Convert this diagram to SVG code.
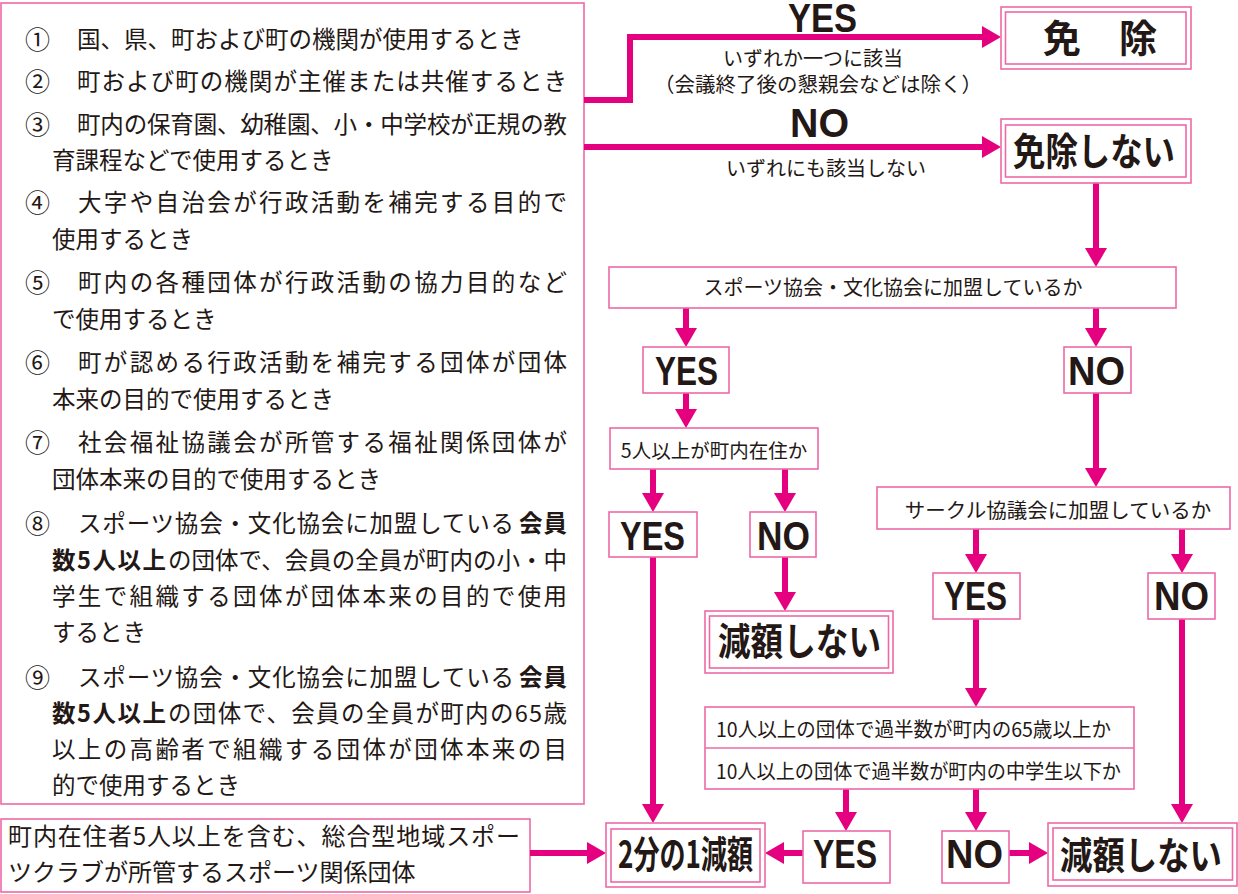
<svg xmlns="http://www.w3.org/2000/svg" width="1238" height="894" viewBox="0 0 1238 894">
<defs>
<marker id="ah" markerUnits="userSpaceOnUse" markerWidth="20" markerHeight="22" viewBox="0 0 20 22" refX="1" refY="11" orient="auto">
<path d="M0,0 L19,11 L0,22 z" fill="#e4007f"/>
</marker>
<style>
.box{fill:#fff;stroke:#ee6aa7;stroke-width:1.6}
.ln{fill:none;stroke:#e4007f;stroke-width:6;marker-end:url(#ah)}
.t{font-family:"Noto Sans CJK JP","Noto Sans",sans-serif;fill:#231815}
.body{font-size:23.5px}
.num{font-size:25px}
.bold{font-weight:700}
.q{font-size:20px}
.big{font-family:"Noto Sans CJK JP",sans-serif;font-weight:700;font-size:38px;fill:#231815}
.yn{font-family:"Liberation Sans","Noto Sans CJK JP",sans-serif;font-weight:700;font-size:41px;fill:#231815}
</style>
</defs>
<rect width="1238" height="894" fill="#fff"/>

<g id="conditions">
<rect class="box" x="1" y="3" width="583" height="801"/>
<g class="t body">
<text class="num" x="25" y="49">①</text><text x="77" y="48">国、県、町および町の機関が使用するとき</text>
<text class="num" x="25" y="91">②</text><text x="77" y="90" textLength="490" lengthAdjust="spacing">町および町の機関が主催または共催するとき</text>
<text class="num" x="25" y="134">③</text><text x="77" y="133" textLength="490" lengthAdjust="spacing">町内の保育園、幼稚園、小・中学校が正規の教</text>
<text x="52" y="169">育課程などで使用するとき</text>
<text class="num" x="25" y="212">④</text><text x="78" y="211" textLength="489" lengthAdjust="spacing">大字や自治会が行政活動を補完する目的で</text>
<text x="52" y="248">使用するとき</text>
<text class="num" x="25" y="292">⑤</text><text x="78" y="291" textLength="489" lengthAdjust="spacing">町内の各種団体が行政活動の協力目的など</text>
<text x="52" y="328">で使用するとき</text>
<text class="num" x="25" y="372">⑥</text><text x="78" y="371" textLength="489" lengthAdjust="spacing">町が認める行政活動を補完する団体が団体</text>
<text x="52" y="408">本来の目的で使用するとき</text>
<text class="num" x="25" y="452">⑦</text><text x="78" y="451" textLength="489" lengthAdjust="spacing">社会福祉協議会が所管する福祉関係団体が</text>
<text x="52" y="488">団体本来の目的で使用するとき</text>
<text class="num" x="25" y="533">⑧</text><text x="78" y="532" textLength="436" lengthAdjust="spacing">スポーツ協会・文化協会に加盟している</text><text class="bold" x="519" y="532" textLength="48" lengthAdjust="spacing">会員</text>
<text class="bold" x="52" y="569" textLength="114" lengthAdjust="spacing">数5人以上</text><text x="168" y="569" textLength="399" lengthAdjust="spacing">の団体で、会員の全員が町内の小・中</text>
<text x="52" y="605" textLength="515" lengthAdjust="spacing">学生で組織する団体が団体本来の目的で使用</text>
<text x="52" y="641">するとき</text>
<text class="num" x="25" y="687">⑨</text><text x="78" y="686" textLength="436" lengthAdjust="spacing">スポーツ協会・文化協会に加盟している</text><text class="bold" x="519" y="686" textLength="48" lengthAdjust="spacing">会員</text>
<text class="bold" x="52" y="722" textLength="114" lengthAdjust="spacing">数5人以上</text><text x="168" y="722" textLength="399" lengthAdjust="spacing">の団体で、会員の全員が町内の65歳</text>
<text x="52" y="758" textLength="515" lengthAdjust="spacing">以上の高齢者で組織する団体が団体本来の目</text>
<text x="52" y="794">的で使用するとき</text>
</g>
</g>

<g id="sportsclub">
<rect class="box" x="1" y="819" width="529" height="73"/>
<text class="t" font-size="24" x="8" y="845" textLength="512" lengthAdjust="spacing">町内在住者5人以上を含む、総合型地域スポー</text>
<text class="t" font-size="24" x="8" y="881">ツクラブが所管するスポーツ関係団体</text>
</g>

<g id="connectors">
<path class="ln" d="M584,100 H630 V37 H983"/>
<path class="ln" d="M584,147 H983"/>
<path class="ln" d="M1096,183 V249"/>
<path class="ln" d="M686,308 V329"/>
<path class="ln" d="M1096,308 V329"/>
<path class="ln" d="M686,393 V410"/>
<path class="ln" d="M1096,393 V469"/>
<path class="ln" d="M653,469 V494"/>
<path class="ln" d="M785,469 V494"/>
<path class="ln" d="M785,557 V593"/>
<path class="ln" d="M653,557 V805"/>
<path class="ln" d="M976,529 V555"/>
<path class="ln" d="M1182,529 V555"/>
<path class="ln" d="M976,619 V689"/>
<path class="ln" d="M1182,619 V805"/>
<path class="ln" d="M846,789 V813"/>
<path class="ln" d="M976,789 V813"/>
<path class="ln" d="M803,853 H783"/>
<path class="ln" d="M1009,853 H1030"/>
<path class="ln" d="M530,853 H588"/>
</g>

<g id="edge-labels" class="t q">
<text class="yn" x="788" y="32" font-size="39" textLength="69" lengthAdjust="spacingAndGlyphs">YES</text>
<text x="813" y="66" text-anchor="middle">いずれか一つに該当</text>
<text x="818" y="92" text-anchor="middle" font-size="20.5">（会議終了後の懇親会などは除く）</text>
<text class="yn" x="790" y="137" font-size="38" textLength="59" lengthAdjust="spacingAndGlyphs">NO</text>
<text x="826" y="176" text-anchor="middle">いずれにも該当しない</text>
</g>

<g id="exempt">
<rect class="box" x="1001" y="7" width="190" height="62"/>
<rect class="box" x="1005.5" y="12" width="180.5" height="52"/>
<text class="big" x="1043" y="52" font-size="35">免　除</text>
</g>

<g id="not-exempt">
<rect class="box" x="1001" y="119" width="190" height="64"/>
<rect class="box" x="1005.5" y="125" width="180.5" height="52"/>
<text class="big" x="1013" y="165" textLength="162" lengthAdjust="spacingAndGlyphs">免除しない</text>
</g>

<g id="q-sports">
<rect class="box" x="609" y="267" width="567" height="41"/>
<text class="t q" x="893" y="295" text-anchor="middle">スポーツ協会・文化協会に加盟しているか</text>
</g>

<g id="yes1">
<rect class="box" x="643" y="347" width="86" height="46"/>
<text class="yn" x="655" y="385" textLength="63" lengthAdjust="spacingAndGlyphs">YES</text>
</g>
<g id="no1">
<rect class="box" x="1064" y="347" width="67" height="46"/>
<text class="yn" x="1068" y="385" textLength="57" lengthAdjust="spacingAndGlyphs">NO</text>
</g>

<g id="q-resident">
<rect class="box" x="610" y="428" width="208" height="41"/>
<text class="t" font-size="19.5" x="714" y="458" text-anchor="middle">5人以上が町内在住か</text>
</g>

<g id="q-circle">
<rect class="box" x="877" y="487" width="353" height="42"/>
<text class="t" font-size="20.5" x="1058" y="518" text-anchor="middle">サークル協議会に加盟しているか</text>
</g>

<g id="yes2">
<rect class="box" x="609" y="512" width="88" height="45"/>
<text class="yn" x="620" y="550" textLength="65" lengthAdjust="spacingAndGlyphs">YES</text>
</g>
<g id="no2">
<rect class="box" x="750" y="512" width="66" height="45"/>
<text class="yn" x="757" y="550" textLength="53" lengthAdjust="spacingAndGlyphs">NO</text>
</g>

<g id="no-reduction-1">
<rect class="box" x="705" y="611" width="188" height="62"/>
<rect class="box" x="709.5" y="616" width="179" height="52"/>
<text class="big" x="718" y="655" textLength="163" lengthAdjust="spacingAndGlyphs">減額しない</text>
</g>

<g id="yes3">
<rect class="box" x="933" y="573" width="87" height="46"/>
<text class="yn" x="944" y="610" textLength="63" lengthAdjust="spacingAndGlyphs">YES</text>
</g>
<g id="no3">
<rect class="box" x="1148" y="573" width="67" height="46"/>
<text class="yn" x="1154" y="610" textLength="55" lengthAdjust="spacingAndGlyphs">NO</text>
</g>

<g id="q-majority">
<rect class="box" x="705" y="707" width="429" height="82"/>
<line x1="705" y1="748" x2="1134" y2="748" stroke="#ee6aa7" stroke-width="1.6"/>
<text class="t q" x="716" y="737" textLength="395" lengthAdjust="spacingAndGlyphs">10人以上の団体で過半数が町内の65歳以上か</text>
<text class="t q" x="716" y="779" textLength="405" lengthAdjust="spacingAndGlyphs">10人以上の団体で過半数が町内の中学生以下か</text>
</g>

<g id="half-reduction">
<rect class="box" x="606" y="823" width="159" height="64"/>
<rect class="box" x="611" y="829" width="149" height="53"/>
<text class="big" x="618" y="868" font-size="37" textLength="135" lengthAdjust="spacingAndGlyphs">2分の1減額</text>
</g>

<g id="yes4">
<rect class="box" x="803" y="831" width="87" height="52"/>
<text class="yn" x="813" y="868" textLength="64" lengthAdjust="spacingAndGlyphs">YES</text>
</g>
<g id="no4">
<rect class="box" x="942" y="831" width="67" height="52"/>
<text class="yn" x="946" y="868" textLength="57" lengthAdjust="spacingAndGlyphs">NO</text>
</g>

<g id="no-reduction-2">
<rect class="box" x="1048" y="823" width="189" height="63"/>
<rect class="box" x="1053" y="828" width="179.5" height="52"/>
<text class="big" x="1060" y="869" textLength="162" lengthAdjust="spacingAndGlyphs">減額しない</text>
</g>
</svg>
